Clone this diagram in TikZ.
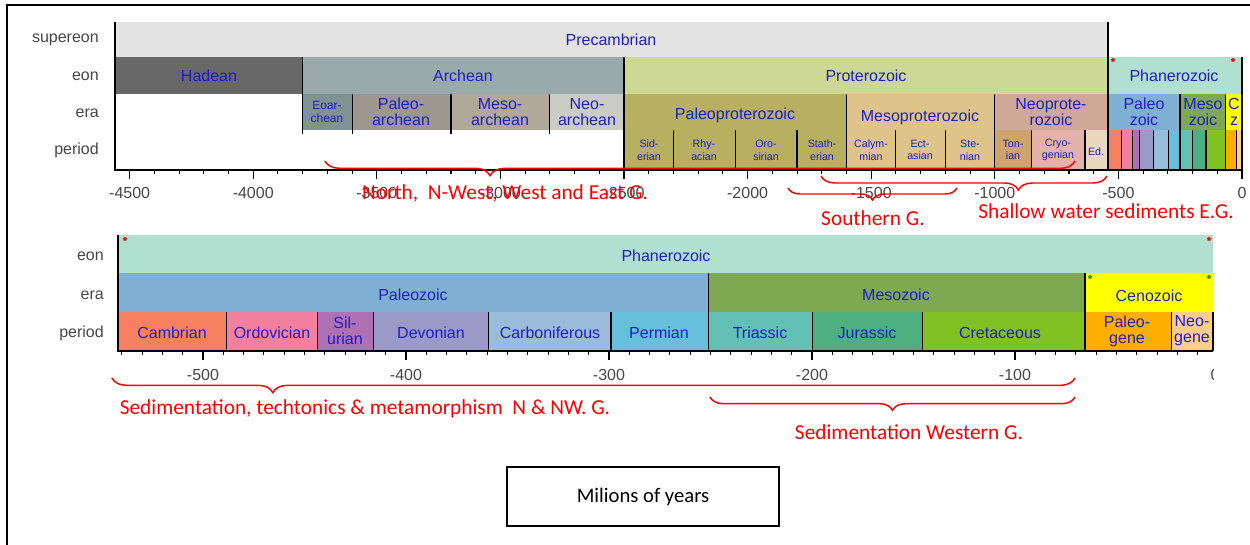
\documentclass[tikz,border=0pt]{standalone}
\usepackage{fontspec}
\setmainfont{Liberation Sans}
\newfontfamily\calibri{Carlito}
\usetikzlibrary{decorations.pathreplacing,shapes.geometric}
\definecolor{labblue}{RGB}{30,30,200}
\definecolor{axgray}{RGB}{70,70,70}
\definecolor{notered}{RGB}{255,0,0}
\definecolor{stargreen}{RGB}{40,150,40}
\definecolor{precamb}{RGB}{227,227,227}
\definecolor{hadean}{RGB}{104,104,104}
\definecolor{archean}{RGB}{154,170,170}
\definecolor{protero}{RGB}{205,216,148}
\definecolor{phanero}{RGB}{178,224,208}
\definecolor{eoarch}{RGB}{128,146,146}
\definecolor{paleoarch}{RGB}{156,152,144}
\definecolor{mesoarch}{RGB}{178,168,154}
\definecolor{neoarch}{RGB}{204,204,198}
\definecolor{paleoprot}{RGB}{182,176,96}
\definecolor{mesoprot}{RGB}{222,196,138}
\definecolor{neoprot}{RGB}{208,168,152}
\definecolor{tonian}{RGB}{204,164,108}
\definecolor{cryogen}{RGB}{228,178,170}
\definecolor{ediac}{RGB}{234,216,190}
\definecolor{paleoz}{RGB}{127,176,212}
\definecolor{mesoz}{RGB}{127,168,82}
\definecolor{cenoz}{RGB}{255,255,0}
\definecolor{cambr}{RGB}{246,128,96}
\definecolor{ordov}{RGB}{244,128,160}
\definecolor{silur}{RGB}{176,112,180}
\definecolor{devon}{RGB}{154,154,200}
\definecolor{carbon}{RGB}{152,188,218}
\definecolor{perm}{RGB}{102,192,220}
\definecolor{trias}{RGB}{98,192,180}
\definecolor{juras}{RGB}{76,176,128}
\definecolor{cretac}{RGB}{128,192,32}
\definecolor{paleog}{RGB}{255,174,0}
\definecolor{neog}{RGB}{254,204,140}

\begin{document}
\begin{tikzpicture}[x=0.75pt,y=-0.75pt,
  lab/.style={text=labblue,font=\fontsize{12}{12}\selectfont,align=center,inner sep=0},
  perlab/.style={lab,font=\fontsize{8}{9.5}\selectfont},
  rowlab/.style={text=axgray,font=\fontsize{12}{12}\selectfont,anchor=east,inner sep=0},
  numlab/.style={text=axgray,font=\fontsize{12}{12}\selectfont,inner sep=0},
  notelab/.style={text=notered,font=\calibri\fontsize{16}{16}\selectfont,inner sep=0},
  divider/.style={line width=0.8pt},
  axisline/.style={line width=1.1pt},
  redbrace/.style={draw=notered,line width=1.1pt,decorate,
  decoration={brace,mirror,amplitude=#1}},
  astmark/.style={star,star points=5,fill=#1,inner sep=0,minimum size=3.5pt}]
  \useasboundingbox (0,0) rectangle (1250,545);
  \draw[line width=1.5pt] (7,545) -- (7,5) -- (1250,5);
  % upper chart
  \fill[precamb] (115,22) rectangle (1108,57);
  \fill[hadean] (115,57) rectangle (302.6,94);
  \fill[archean] (302.6,57) rectangle (624,94);
  \fill[protero] (624,57) rectangle (1108,94);
  \fill[phanero] (1108,57) rectangle (1242,94);
  \fill[eoarch] (302.6,94) rectangle (352.1,130);
  \fill[paleoarch] (352.1,94) rectangle (451,130);
  \fill[mesoarch] (451,94) rectangle (549.8,130);
  \fill[neoarch] (549.8,94) rectangle (624,130);
  \fill[paleoprot] (624,94) rectangle (846.5,170);
  \fill[mesoprot] (846.5,94) rectangle (994.8,170);
  \fill[neoprot] (994.8,94) rectangle (1108,130);
  \fill[paleoz] (1108,94) rectangle (1180,130);
  \fill[mesoz] (1180,94) rectangle (1225.8,130);
  \fill[cenoz] (1225.8,94) rectangle (1242,130);
  \fill[tonian] (994.8,130) rectangle (1031.9,170);
  \fill[cryogen] (1031.9,130) rectangle (1085,170);
  \fill[ediac] (1085,130) rectangle (1108,170);
  \foreach \xa/\xb/\col in {1108/1121.3/cambr,1121.3/1132.3/ordov,1132.3/1139.2/silur,
    1139.2/1153.2/devon,1153.2/1168.1/carbon,1168.1/1180/perm,1180/1192.7/trias,
    1192.7/1206/juras,1206/1225.8/cretac,1225.8/1236.3/paleog,1236.3/1242/neog}
    \fill[\col] (\xa,130) rectangle (\xb,170);
  \draw[divider] (302.6,57) -- (302.6,134);
  \foreach \xa in {352.1,451,549.8}
    \draw[divider] (\xa,94) -- (\xa,134);
  \draw[divider] (624,57) -- (624,170);
  \foreach \xa in {846.5,994.8,1180,1225.8}
    \draw[divider] (\xa,94) -- (\xa,170);
  \foreach \xa in {673.4,735.2,797,895.9,945.4,1031.9,1085,1121.3,1132.3,1139.2,
    1153.2,1168.1,1192.7,1206,1236.3}
    \draw[divider] (\xa,130) -- (\xa,170);
  \draw[divider] (1108,22) -- (1108,170);
  \draw[divider] (1242,57) -- (1242,170);
  \draw[axisline] (115,22) -- (115,170) -- (1242,170);
  \foreach \ma in {-4500,-4400,...,0}
    \draw[divider] ({1242+0.2472*\ma},170) -- ++(0,4);
  \foreach \ma in {-4500,-4000,...,0}{
    \draw[divider] ({1242+0.2472*\ma},170) -- ++(0,9);
    \node[numlab] (top\ma) at ({1242+0.2472*\ma},193) {\ma};}
  \node[rowlab] (rsuper) at (99,40) {supereon};
  \node[rowlab] (reon) at (99,76) {eon};
  \node[rowlab] (rera) at (99,113) {era};
  \node[rowlab] (rper) at (99,150) {period};
  \node[lab] (precambrian) at (611,40) {Precambrian};
  \node[lab] (hadean) at (209,76) {Hadean};
  \node[lab] (archean) at (463,76) {Archean};
  \node[lab] (proterozoic) at (866,76) {Proterozoic};
  \node[lab] (phanerozoic) at (1174,76) {Phanerozoic};
  \node[lab,font=\fontsize{9}{10}\selectfont] (eoarchean) at (327,112) {Eoar-\\chean};
  \node[lab] (paleoarchean) at (401,112) {Paleo-\\archean};
  \node[lab] (mesoarchean) at (500,112) {Meso-\\archean};
  \node[lab] (neoarchean) at (587,112) {Neo-\\archean};
  \node[lab] (paleoproterozoic) at (735,115) {Paleoproterozoic};
  \node[lab] (mesoproterozoic) at (920,117) {Mesoproterozoic};
  \node[lab] (neoproterozoic) at (1051,112) {Neoprote-\\rozoic};
  \node[lab] (paleozoic) at (1144,112) {Paleo\\zoic};
  \node[lab] (mesozoic) at (1203,112) {Meso\\zoic};
  \node[lab] (cz) at (1234,112) {C\\z};
  \node[perlab] (siderian) at (649,150) {Sid-\\erian};
  \node[perlab] (rhyacian) at (704,150) {Rhy-\\acian};
  \node[perlab] (orosirian) at (766,150) {Oro-\\sirian};
  \node[perlab] (statherian) at (822,150) {Stath-\\erian};
  \node[perlab] (calymmian) at (871,150) {Calym-\\mian};
  \node[perlab] (ectasian) at (920,150) {Ect-\\asian};
  \node[perlab] (stenian) at (970,150) {Ste-\\nian};
  \node[perlab] (tonian) at (1013,150) {Ton-\\ian};
  \node[perlab] (cryogenian) at (1058,150) {Cryo-\\genian};
  \node[perlab] (ediacaran) at (1096,152) {Ed.};
  \node[astmark=notered] (sa) at (1113,60) {};
  \node[astmark=notered] (sb) at (1233,60) {};
  % lower chart
  \fill[phanero] (118,235) rectangle (1213,273);
  \fill[paleoz] (118,273) rectangle (708.5,312);
  \fill[mesoz] (708.5,273) rectangle (1085,312);
  \fill[cenoz] (1085,273) rectangle (1213,312);
  \foreach \xa/\xb/\col in {118/226.8/cambr,226.8/317.3/ordov,317.3/373.5/silur,
    373.5/488.8/devon,488.8/611/carbon,611/708.5/perm,708.5/812.8/trias,
    812.8/922.6/juras,922.6/1085/cretac,1085/1171.3/paleog,1171.3/1213/neog}
    \fill[\col] (\xa,312) rectangle (\xb,351);
  \foreach \xa in {708.5,1085}
    \draw[divider] (\xa,273) -- (\xa,351);
  \foreach \xa in {226.8,317.3,373.5,488.8,611,812.8,922.6,1171.3,1213}
    \draw[divider] (\xa,312) -- (\xa,351);
  \draw[axisline] (118,235) -- (118,351) -- (1213,351);
  \foreach \ma in {-540,-530,...,-10}
    \draw[divider] ({1218+2.03*\ma},351) -- ++(0,4);
  \foreach \ma in {-500,-400,...,-100}{
    \draw[divider] ({1218+2.03*\ma},351) -- ++(0,9);
    \node[numlab] (bot\ma) at ({1218+2.03*\ma},375) {\ma};}
  \begin{scope}
    \clip (1195,360) rectangle (1213,390);
    \node[numlab] (bot0) at (1215,375) {0};
  \end{scope}
  \node[rowlab] (breon) at (104,256) {eon};
  \node[rowlab] (brera) at (104,295) {era};
  \node[rowlab] (brper) at (104,333) {period};
  \node[lab] (bphanerozoic) at (666,256) {Phanerozoic};
  \node[lab] (bpaleozoic) at (413,295) {Paleozoic};
  \node[lab] (bmesozoic) at (896,295) {Mesozoic};
  \node[lab] (bcenozoic) at (1149,296) {Cenozoic};
  \node[lab] (cambrian) at (172,333) {Cambrian};
  \node[lab] (ordovician) at (272,333) {Ordovician};
  \node[lab] (silurian) at (345,331) {Sil-\\urian};
  \node[lab] (devonian) at (431,333) {Devonian};
  \node[lab] (carboniferous) at (550,333) {Carboniferous};
  \node[lab] (permian) at (659,333) {Permian};
  \node[lab] (triassic) at (760,333) {Triassic};
  \node[lab] (jurassic) at (867,333) {Jurassic};
  \node[lab] (cretaceous) at (1000,333) {Cretaceous};
  \node[lab] (paleogene) at (1127,331) {Paleo-\\gene};
  \node[lab] (neogene) at (1192,331) {Neo-\\gene};
  \node[astmark=notered] (sc) at (125,239) {};
  \node[astmark=notered] (sd) at (1209,239) {};
  \node[astmark=stargreen] (se) at (1090,277) {};
  \node[astmark=stargreen] (sf) at (1209,277) {};
  % red notes
  \coordinate (na) at (325,161);
  \coordinate (nb) at (1075,161);
  \coordinate (sta) at (788,188);
  \coordinate (stb) at (957,188);
  \coordinate (swa) at (821,176);
  \coordinate (swb) at (1107,176);
  \coordinate (ta) at (112,378);
  \coordinate (tb) at (1075,378);
  \coordinate (wa) at (710,397);
  \coordinate (wb) at (1075,397);
  \draw[redbrace=11pt,decoration={aspect=0.22}] (na) -- (nb);
  \draw[redbrace=9pt] (sta) -- (stb);
  \draw[redbrace=10.5pt,decoration={aspect=0.69}] (swa) -- (swb);
  \draw[redbrace=11pt,decoration={aspect=0.167}] (ta) -- (tb);
  \draw[redbrace=10pt] (wa) -- (wb);
  \node[notelab] (north) at (505,193) {North,~ N-West, West and East G.};
  \node[notelab] (southern) at (873,218) {Southern G.};
  \node[notelab] (shallow) at (1106,211) {Shallow water sediments E.G.};
  \node[notelab] (techtonics) at (365,409) {Sedimentation, techtonics \& metamorphism~ N \& NW. G.};
  \node[notelab] (western) at (909,432) {Sedimentation Western G.};
  \node[draw,line width=1.2pt,minimum width=204pt,minimum height=44pt,inner sep=0,
    font=\calibri\fontsize{15.5}{15.5}\selectfont] (units) at (643,496.5) {Milions of years};
\end{tikzpicture}
\end{document}
